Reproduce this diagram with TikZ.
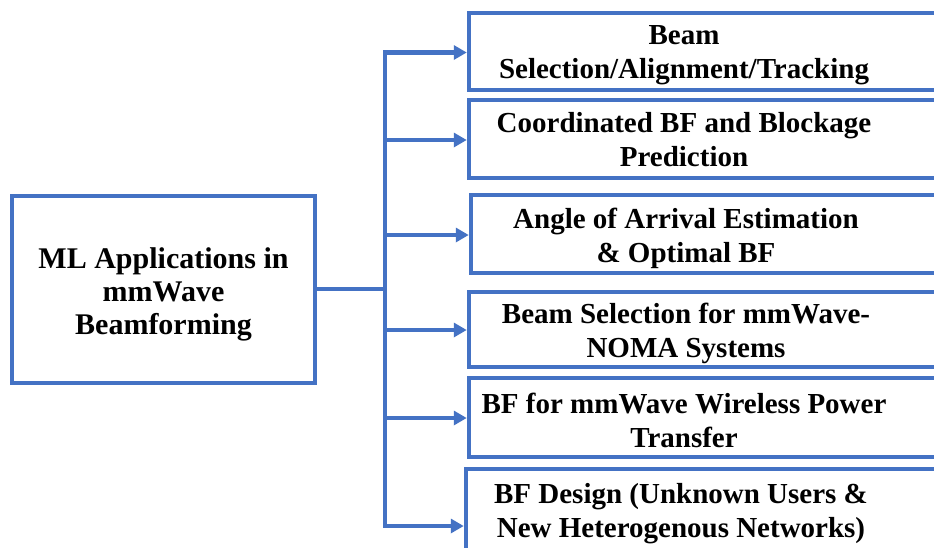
\documentclass[tikz,border=0pt]{standalone}
\usepackage{fontspec}
\setmainfont{Liberation Serif}
\usetikzlibrary{arrows.meta}
\definecolor{bfblue}{HTML}{4472C4}
\begin{document}
\begin{tikzpicture}[x=1pt,y=-1pt,
  box/.style={draw=bfblue, line width=4.5pt, inner sep=0pt},
  lbl/.style={font=\fontsize{29}{34}\selectfont\bfseries, align=center, inner sep=0pt},
  link/.style={draw=bfblue, line width=4.5pt},
  arr/.style={link, -{Triangle[length=13pt,width=14pt]}}]
\fill[white] (0,0) rectangle (934,547);
\useasboundingbox (0,0) rectangle (934,547);

% left box
\node[box, minimum width=303pt, minimum height=187pt] (lb) at (163.5,289.5) {};
\node[font=\fontsize{30}{33}\selectfont\bfseries, align=center, inner sep=0pt]
      (lt) at (163.5,294) {ML Applications in\\mmWave\\Beamforming};

% right boxes
\node[box, minimum width=469pt, minimum height=77pt] (b1) at (703.5,51.5) {};
\node[box, minimum width=469pt, minimum height=78pt] (b2) at (703.5,139) {};
\node[box, minimum width=467pt, minimum height=78pt] (b3) at (704.5,234) {};
\node[box, minimum width=469pt, minimum height=75pt] (b4) at (703.5,329.5) {};
\node[box, minimum width=469pt, minimum height=79pt] (b5) at (703.5,417.5) {};
\node[box, minimum width=472pt, minimum height=86pt] (b6) at (702,512) {};

\node[lbl] (l1) at (684,55) {Beam\\Selection/Alignment/Tracking};
\node[lbl] (l2) at (684,140) {Coordinated BF and Blockage\\Prediction};
\node[lbl] (l3) at (686,238) {Angle of Arrival Estimation\\\& Optimal BF};
\node[lbl] (l4) at (686,333) {Beam Selection for mmWave-\\NOMA Systems};
\node[lbl] (l5) at (684,420) {BF for mmWave Wireless Power\\Transfer};
\node[lbl] (l6) at (681,514) {BF Design (Unknown Users \&\\New Heterogenous Networks)};

% trunk
\coordinate (tj) at (385,289);
\coordinate (t1) at (385,52.5);
\coordinate (t2) at (385,140);
\coordinate (t3) at (385,235);
\coordinate (t4) at (385,330);
\coordinate (t5) at (385,418);
\coordinate (t6) at (385,526);

\draw[link] (lb.east |- tj) -- (tj);
\draw[link, line cap=rect] (t1) -- (t6);
\draw[arr] (t1) -- (t1 -| b1.west);
\draw[arr] (t2) -- (t2 -| b2.west);
\draw[arr] (t3) -- (t3 -| b3.west);
\draw[arr] (t4) -- (t4 -| b4.west);
\draw[arr] (t5) -- (t5 -| b5.west);
\draw[arr] (t6) -- (t6 -| b6.west);
\end{tikzpicture}
\end{document}
